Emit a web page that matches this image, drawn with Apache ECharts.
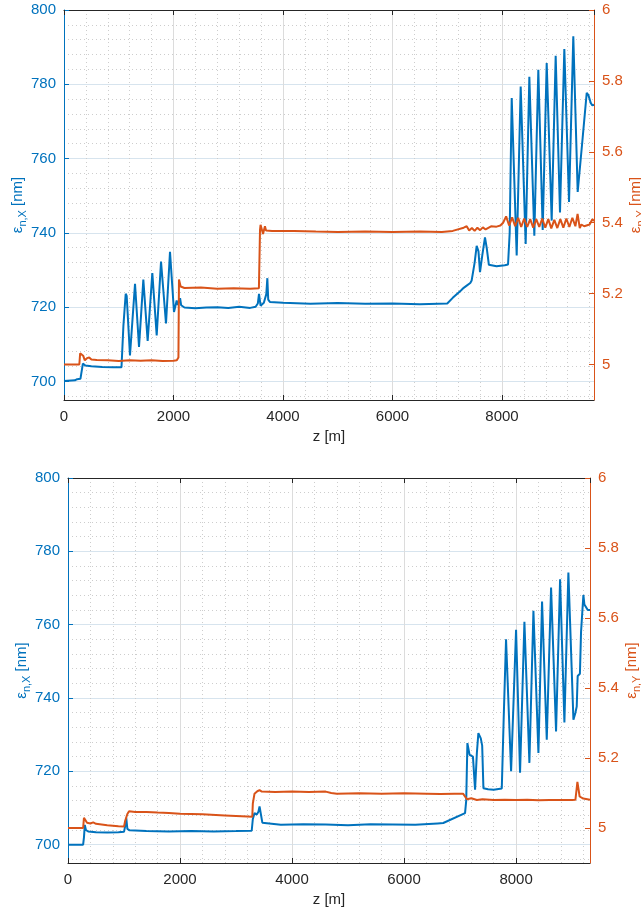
<!DOCTYPE html>
<html>
<head>
<meta charset="utf-8">
<script src="https://cdn.jsdelivr.net/npm/echarts@6/dist/echarts.min.js"></script>
<style>
  html, body { margin: 0; background: #fff; }
  #chart { width: 641px; height: 911px; }
</style>
</head>
<body>
<div id="chart"></div>
<script>
// [z in m, value]
const topX = [
  [0,700.1],[200,700.3],[240,700.6],[300,700.7],[320,701],[345,704.8],[370,705.2],[390,704.3],[500,704.1],
  [700,703.9],[900,703.8],[1050,703.8],[1085,715],[1127,723.6],[1145,723],[1205,707],[1297,726.3],
  [1370,709.3],[1449,727.4],[1528,710.9],[1613,729.2],[1693,712.4],[1772,732.3],[1863,715.6],
  [1936,734.9],[2009,718.7],[2058,721.8],[2080,720.6],[2100,720.8],[2120,722.4],[2140,720.5],
  [2200,719.9],[2400,719.7],[2600,719.9],[2800,720.0],[3000,719.8],[3200,720.1],[3400,719.8],
  [3500,720.1],[3540,721],[3562,723.6],[3590,720.4],[3650,721.2],[3695,723.5],[3714,727.8],
  [3730,722],[3760,721.4],[4000,721.2],[4500,720.9],[5000,721.1],[5500,720.9],[6000,721.0],
  [6500,720.8],[7000,721.0],[7100,722.5],[7250,724.5],[7300,725.2],[7355,725.8],[7420,726.5],
  [7446,727.2],[7500,732],[7537,736.5],[7570,735],[7598,729.4],[7640,734],[7689,738.8],[7720,736],
  [7760,731.4],[7900,731],[8050,731.3],[8110,731.5],[8140,740],[8177,776.3],[8268,733.9],
  [8341,779.4],[8432,737],[8499,782],[8590,739.2],[8663,783.9],[8743,740.8],[8816,785.7],
  [8907,743.3],[8980,787.7],[9059,745.5],[9138,789.5],[9224,748.3],[9302,792.9],[9382,751],
  [9416,751.3],[9473,765.6],[9500,766],[9547,777.7],[9580,777],[9620,775],[9650,774.3],[9680,774.5]
];
const topY = [
  [0,5.0],[280,5.0],[295,5.032],[330,5.033],[350,5.025],[380,5.012],[420,5.018],[460,5.02],
  [500,5.014],[600,5.013],[800,5.012],[1000,5.01],[1200,5.012],[1400,5.011],[1600,5.012],
  [1800,5.01],[2000,5.011],[2060,5.012],[2090,5.02],[2100,5.24],[2115,5.242],[2130,5.22],
  [2200,5.216],[2500,5.217],[2800,5.214],[3100,5.215],[3400,5.214],[3560,5.215],[3580,5.38],
  [3590,5.394],[3620,5.394],[3635,5.368],[3660,5.37],[3670,5.39],[3690,5.378],[3800,5.377],
  [4200,5.377],[4600,5.375],[5000,5.374],[5500,5.375],[6000,5.374],[6500,5.375],[6900,5.374],
  [7100,5.377],[7300,5.386],[7355,5.39],[7400,5.378],[7450,5.385],[7500,5.377],[7550,5.386],
  [7600,5.379],[7650,5.387],[7700,5.381],[7800,5.39],[7900,5.389],[7970,5.392],
  [8020,5.40],[8075,5.418],[8130,5.392],[8185,5.415],[8240,5.39],[8295,5.414],[8350,5.388],
  [8405,5.412],[8460,5.388],[8515,5.41],[8570,5.386],[8625,5.41],[8680,5.388],[8735,5.412],
  [8790,5.386],[8845,5.41],[8900,5.384],[8955,5.408],[9010,5.385],[9065,5.41],[9120,5.386],
  [9175,5.412],[9230,5.388],[9285,5.414],[9340,5.39],[9380,5.425],[9410,5.42],[9420,5.385],
  [9450,5.395],[9500,5.39],[9600,5.395],[9650,5.41],[9680,5.405]
];
const botX = [
  [0,700],[270,700],[285,702],[300,705.4],[320,704],[360,703.6],[500,703.4],[700,703.3],
  [900,703.4],[1000,703.5],[1020,705],[1040,707.3],[1060,704.3],[1100,703.9],[1400,703.7],
  [1800,703.6],[2200,703.7],[2600,703.6],[3000,703.7],[3280,703.8],[3300,707],[3330,708.6],
  [3370,708.2],[3400,709],[3420,710.4],[3450,710.3],[3470,706],[3500,705.6],[3800,705.4],
  [4200,705.6],[4600,705.5],[5000,705.3],[5400,705.6],[5800,705.5],[6200,705.4],[6600,705.8],
  [6700,705.9],[7089,708.6],[7110,712],[7131,727.7],[7150,727.5],[7170,724.5],[7230,724],
  [7268,715],[7300,725],[7327,730.4],[7370,729],[7395,727],[7417,715.4],[7500,715.1],
  [7600,715],[7745,715.3],[7780,735],[7821,756],[7911,720],[8000,758.6],[8071,719.6],
  [8149,760.8],[8238,722.3],[8310,763.8],[8399,725],[8464,766.3],[8548,728.6],[8625,770.1],
  [8714,730.9],[8786,772.4],[8863,733.3],[8934,774.2],[9024,734.1],[9060,736],[9083,737.7],
  [9100,746],[9113,746.3],[9140,746.6],[9160,758],[9202,768.1],[9220,765.5],[9250,765.8],
  [9280,764],[9320,764]
];
const botY = [
  [0,5.0],[270,5.0],[285,5.029],[320,5.03],[340,5.015],[370,5.02],[400,5.013],[450,5.016],
  [500,5.012],[700,5.008],[900,5.005],[1000,5.004],[1020,5.02],[1060,5.04],[1090,5.048],
  [1200,5.046],[1400,5.046],[1600,5.044],[1800,5.043],[2000,5.041],[2400,5.039],[2800,5.036],
  [3200,5.033],[3290,5.032],[3300,5.07],[3330,5.098],[3380,5.105],[3420,5.108],[3460,5.104],
  [3700,5.103],[4000,5.104],[4300,5.103],[4600,5.104],[4700,5.1],[4800,5.098],[5200,5.099],
  [5600,5.098],[6000,5.099],[6400,5.098],[6650,5.097],[6900,5.098],[7053,5.098],[7125,5.082],
  [7200,5.085],[7300,5.08],[7400,5.082],[7600,5.08],[7800,5.081],[8000,5.08],[8200,5.081],
  [8400,5.079],[8600,5.08],[8800,5.08],[9000,5.08],[9060,5.081],[9080,5.11],[9095,5.132],
  [9115,5.128],[9135,5.09],[9200,5.084],[9320,5.081]
];
const xMax = [9680, 9320];

const BLUE = '#0072BD', ORANGE = '#D95319', INK = '#262626';
const font = '"Liberation Sans", Arial, Helvetica, sans-serif';
const minorLine = { show: true, lineStyle: { color: '#cdcdcd', type: [1, 3] } };

const chart = echarts.init(document.getElementById('chart'));

const grids = [
  { left: 64, right: 47, top: 10, height: 390, outerBoundsMode: 'none' },
  { left: 68, right: 51, top: 478, height: 385, outerBoundsMode: 'none' },
];
const xAxis = [], yAxis = [], series = [];

function epsName(sub, color) {
  return {
    name: '{e|ε}{s|' + sub + '} [nm]',
    nameMoveOverlap: false,
    nameTextStyle: {
      color, fontSize: 15, fontFamily: font, lineHeight: 20,
      rich: {
        e: { color, fontSize: 15, fontFamily: font, lineHeight: 20 },
        s: { color, fontSize: 11, fontFamily: font, lineHeight: 11, verticalAlign: 'bottom' },
      },
    },
  };
}

[[topX, topY], [botX, botY]].forEach(([xs, ys], i) => {
  const xb = { gridIndex: i, type: 'value', min: 0, max: xMax[i], interval: 2000 };
  xAxis.push({
    ...xb, position: 'bottom',
    name: 'z [m]', nameLocation: 'middle', nameGap: 29, nameMoveOverlap: false,
    nameTextStyle: { color: INK, fontSize: 15, fontFamily: font },
    axisLine: { onZero: false, lineStyle: { color: INK } },
    axisTick: { inside: true, length: 5, lineStyle: { color: INK } },
    axisLabel: { color: INK, fontSize: 15, fontFamily: font, margin: 9, showMaxLabel: false, formatter: v => String(v) },
    splitLine: { show: true, lineStyle: { color: '#dcdcdc' } },
    minorTick: { show: false, splitNumber: 5 },
    minorSplitLine: minorLine,
  });
  xAxis.push({
    ...xb, position: 'top',
    axisLine: { onZero: false, lineStyle: { color: INK } },
    axisTick: { inside: true, length: 5, lineStyle: { color: INK } },
    axisLabel: { show: false }, splitLine: { show: false },
  });

  yAxis.push({
    gridIndex: i, type: 'value', min: 695, max: 800, splitNumber: 5, position: 'left',
    ...epsName('n,X', BLUE), nameLocation: 'middle', nameGap: 36,
    axisLine: { onZero: false, lineStyle: { color: BLUE } },
    axisTick: { inside: true, length: 5, lineStyle: { color: BLUE } },
    axisLabel: { color: BLUE, fontSize: 15, fontFamily: font, margin: 8, showMinLabel: false },
    splitLine: { show: true, lineStyle: { color: '#d7e4ee' } },
    minorTick: { show: false, splitNumber: 5 },
    minorSplitLine: minorLine,
  });
  yAxis.push({
    gridIndex: i, type: 'value', min: 4.9, max: 6, splitNumber: 5, position: 'right',
    ...epsName('n,Y', ORANGE), nameLocation: 'middle', nameGap: 32,
    axisLine: { onZero: false, lineStyle: { color: ORANGE } },
    axisTick: { inside: true, length: 5, lineStyle: { color: ORANGE } },
    axisLabel: { color: ORANGE, fontSize: 15, fontFamily: font, margin: 8, showMinLabel: false },
    splitLine: { show: false },
  });

  series.push({
    type: 'line', xAxisIndex: 2 * i, yAxisIndex: 2 * i, data: xs,
    showSymbol: false, symbol: 'none', lineStyle: { color: BLUE, width: 2 }, z: 3,
  });
  series.push({
    type: 'line', xAxisIndex: 2 * i, yAxisIndex: 2 * i + 1, data: ys,
    showSymbol: false, symbol: 'none', lineStyle: { color: ORANGE, width: 2 }, z: 4,
  });
});

chart.setOption({
  backgroundColor: '#fff',
  animation: false,
  grid: grids,
  xAxis, yAxis, series,
});
</script>
</body>
</html>
